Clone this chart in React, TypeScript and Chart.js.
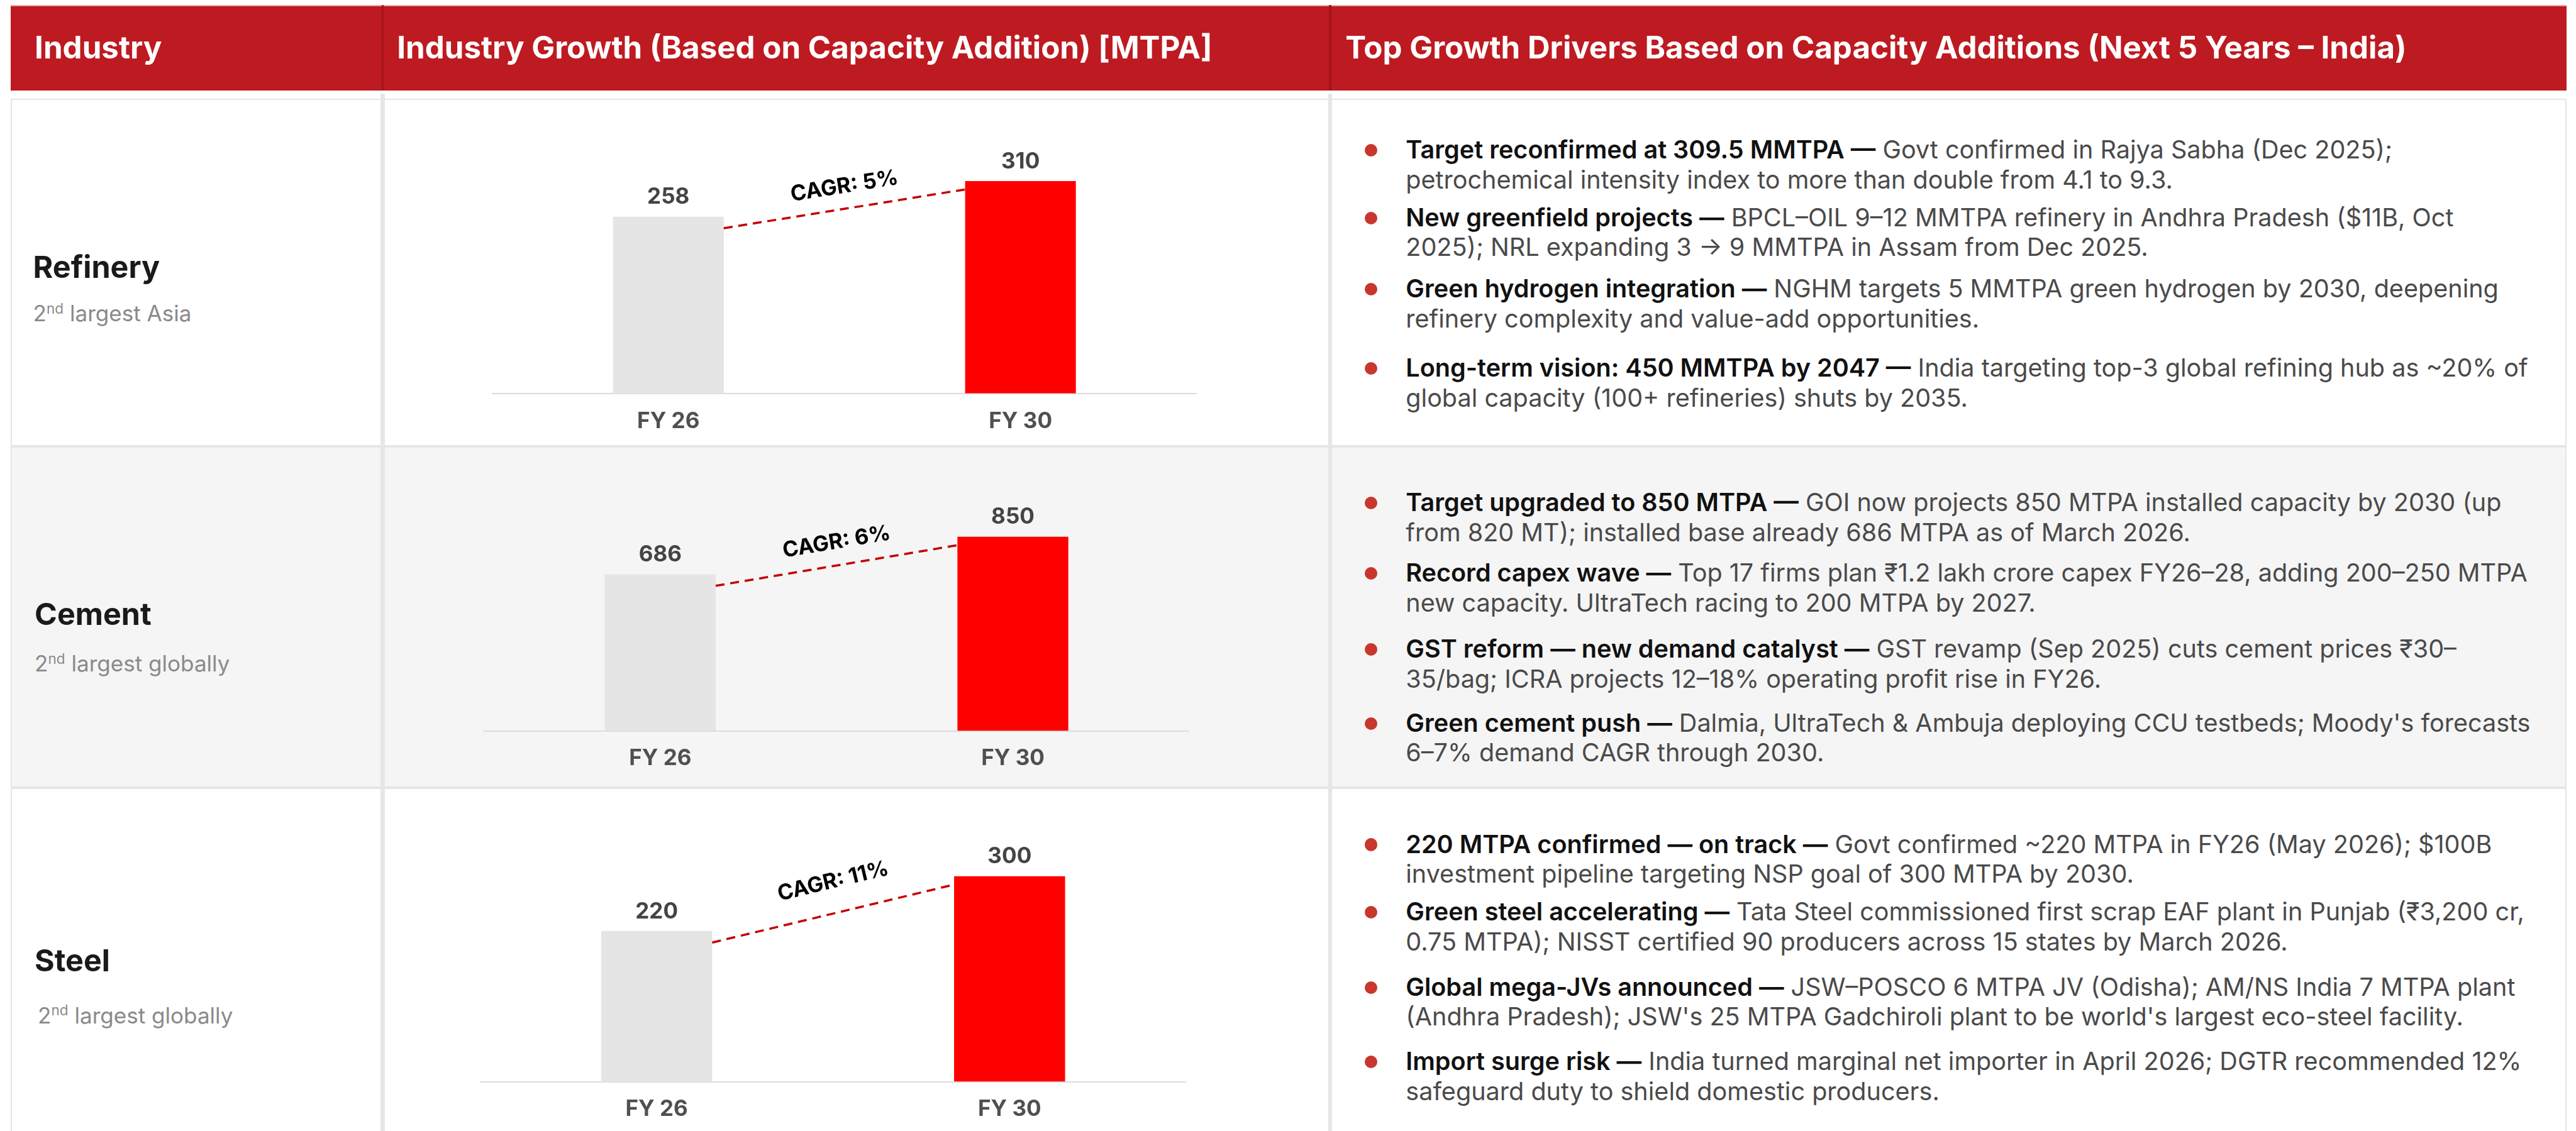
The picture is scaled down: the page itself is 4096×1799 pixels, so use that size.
import React, { useEffect, useRef } from "react";
import { Chart, registerables } from "chart.js";

Chart.register(...registerables);

// ---------- scale ----------
const S = 0.835;
const s = (v: number) => v * S;
const FONT = 'Inter, "Noto Sans", "DejaVu Sans", sans-serif';

// ---------- data ----------
const HEADERS = [
  "Industry",
  "Industry Growth (Based on Capacity Addition) [MTPA]",
  "Top Growth Drivers Based on Capacity Additions (Next 5 Years – India)",
];
const INDUSTRIES = ["Refinery", "Cement", "Steel"];
const RANK_NUMBER = "2";
const RANK_SUFFIX = "nd";
const RANK_TEXT = ["largest Asia", "largest globally", "largest globally"];
const YEARS = ["FY 26", "FY 30"];
const REFINERY_CAPACITY = [258, 310];
const CEMENT_CAPACITY = [686, 850];
const STEEL_CAPACITY = [220, 300];
const CAGR_LABELS = ["CAGR: 5%", "CAGR: 6%", "CAGR: 11%"];
const Y_AXIS_MAX = [400, 1200, 400];

const REFINERY_DRIVERS = [
  ["Target reconfirmed at 309.5 MMTPA —", " Govt confirmed in Rajya Sabha (Dec 2025);", "petrochemical intensity index to more than double from 4.1 to 9.3."],
  ["New greenfield projects —", " BPCL–OIL 9–12 MMTPA refinery in Andhra Pradesh ($11B, Oct", "2025); NRL expanding 3 → 9 MMTPA in Assam from Dec 2025."],
  ["Green hydrogen integration —", " NGHM targets 5 MMTPA green hydrogen by 2030, deepening", "refinery complexity and value-add opportunities."],
  ["Long-term vision: 450 MMTPA by 2047 —", " India targeting top-3 global refining hub as ~20% of", "global capacity (100+ refineries) shuts by 2035."],
];
const CEMENT_DRIVERS = [
  ["Target upgraded to 850 MTPA —", " GOI now projects 850 MTPA installed capacity by 2030 (up", "from 820 MT); installed base already 686 MTPA as of March 2026."],
  ["Record capex wave —", " Top 17 firms plan ₹1.2 lakh crore capex FY26–28, adding 200–250 MTPA", "new capacity. UltraTech racing to 200 MTPA by 2027."],
  ["GST reform — new demand catalyst —", " GST revamp (Sep 2025) cuts cement prices ₹30–", "35/bag; ICRA projects 12–18% operating profit rise in FY26."],
  ["Green cement push —", " Dalmia, UltraTech & Ambuja deploying CCU testbeds; Moody's forecasts", "6–7% demand CAGR through 2030."],
];
const STEEL_DRIVERS = [
  ["220 MTPA confirmed — on track —", " Govt confirmed ~220 MTPA in FY26 (May 2026); $100B", "investment pipeline targeting NSP goal of 300 MTPA by 2030."],
  ["Green steel accelerating —", " Tata Steel commissioned first scrap EAF plant in Punjab (₹3,200 cr,", "0.75 MTPA); NISST certified 90 producers across 15 states by March 2026."],
  ["Global mega-JVs announced —", " JSW–POSCO 6 MTPA JV (Odisha); AM/NS India 7 MTPA plant", "(Andhra Pradesh); JSW's 25 MTPA Gadchiroli plant to be world's largest eco-steel facility."],
  ["Import surge risk —", " India turned marginal net importer in April 2026; DGTR recommended 12%", "safeguard duty to shield domestic producers."],
];

const VALUES = [REFINERY_CAPACITY, CEMENT_CAPACITY, STEEL_CAPACITY];
const DRIVERS = [REFINERY_DRIVERS, CEMENT_DRIVERS, STEEL_DRIVERS];

// ---------- layout (reference pixel units) ----------
const ROW_TOP = [191, 850, 1501];
const ROW_BOTTOM = [850, 1501, 2153];
const TITLE_Y = [509, 1170, 1831];
const TITLE_X = [63, 66, 66];
const SUBTITLE_Y = [597, 1264, 1934];
const SUBTITLE_X = [63, 66, 72];
const PLOT_LEFT = [938, 922, 915];
const PLOT_RIGHT = [2279, 2265, 2259];
const BASELINE = [750, 1392, 2061];
const PLOT_H = 522;
const AXIS_H = 90;
const CANVAS_X0 = 737;
const CANVAS_X1 = 2525;
const DRIVER_Y = [
  [286, 415, 551, 702],
  [958, 1092, 1237, 1378],
  [1609, 1738, 1881, 2023],
];
const LINE_H = 57;
const ROW_BG = ["#ffffff", "#f5f5f5", "#ffffff"];

function GrowthChart({ idx }: { idx: number }) {
  const ref = useRef<HTMLCanvasElement>(null);
  const top = ROW_TOP[idx];
  const bottom = ROW_BOTTOM[idx];
  const W = Math.round(s(CANVAS_X1 - CANVAS_X0));
  const H = Math.round(s(bottom - top));

  useEffect(() => {
    if (!ref.current) return;
    const annot = {
      id: "annot",
      afterDatasetsDraw(chart: any) {
        const ctx = chart.ctx;
        const meta = chart.getDatasetMeta(0);
        const vals = chart.data.datasets[0].data;
        ctx.save();
        // value labels
        ctx.font = `700 ${s(42)}px ${FONT}`;
        ctx.fillStyle = "#444444";
        ctx.textAlign = "center";
        ctx.textBaseline = "middle";
        meta.data.forEach((bar: any, i: number) => {
          ctx.fillText(String(vals[i]), bar.x, bar.y - s(37));
        });
        // dashed connector
        const b0 = meta.data[0];
        const b1 = meta.data[1];
        const x0 = b0.x + b0.width / 2;
        const x1 = b1.x - b1.width / 2;
        const y0 = b0.y + s(22);
        const y1 = b1.y + s(16);
        ctx.setLineDash([s(17), s(11)]);
        ctx.lineWidth = s(4.2);
        ctx.strokeStyle = "#c40000";
        ctx.beginPath();
        ctx.moveTo(x0, y0);
        ctx.lineTo(x1, y1);
        ctx.stroke();
        ctx.setLineDash([]);
        // CAGR label
        const ang = Math.atan2(y1 - y0, x1 - x0);
        ctx.translate((x0 + x1) / 2, b1.y + s(10));
        ctx.rotate(ang);
        ctx.font = `700 ${s(41)}px ${FONT}`;
        ctx.fillStyle = "#000000";
        ctx.fillText(CAGR_LABELS[idx], 0, 0);
        ctx.restore();
      },
    };

    const fontSize = s(42);
    const padTick = s(53) - (fontSize * 1.2) / 2;
    const chart = new Chart(ref.current, {
      type: "bar",
      data: {
        labels: YEARS,
        datasets: [
          {
            data: VALUES[idx],
            backgroundColor: ["#e5e5e5", "#ff0000"],
            borderWidth: 0,
            barPercentage: 0.3145,
            categoryPercentage: 1,
          },
        ],
      },
      options: {
        animation: false,
        responsive: false,
        maintainAspectRatio: false,
        layout: {
          padding: {
            left: s(PLOT_LEFT[idx] - CANVAS_X0),
            right: W - s(PLOT_RIGHT[idx] - CANVAS_X0),
            top: s(BASELINE[idx] - PLOT_H - top),
            bottom: H - s(BASELINE[idx] - top) - s(AXIS_H),
          },
        },
        plugins: {
          legend: { display: false },
          tooltip: { enabled: false },
        },
        scales: {
          x: {
            grid: { display: false, drawTicks: false },
            border: { display: true, color: "#dcdcdc", width: 2 },
            ticks: {
              color: "#505050",
              padding: padTick,
              font: { family: FONT, size: fontSize, weight: "bold" },
            },
            afterFit: (sc: any) => {
              sc.height = s(AXIS_H);
            },
          },
          y: { display: false, min: 0, max: Y_AXIS_MAX[idx] },
        },
      } as any,
      plugins: [annot as any],
    });
    return () => chart.destroy();
  }, [idx]);

  return (
    <canvas
      ref={ref}
      width={W}
      height={H}
      style={{ position: "absolute", left: s(CANVAS_X0), top: s(top), width: W, height: H }}
    />
  );
}

function abs(x: number, y: number, w: number, h: number, extra: React.CSSProperties = {}): React.CSSProperties {
  return { position: "absolute", left: s(x), top: s(y), width: s(w), height: s(h), ...extra };
}

export default function App() {
  const headerX = [66, 756, 2562];
  const bodyFont = s(47.4);
  const lh = s(LINE_H);
  return (
    <div
      style={{
        position: "absolute",
        left: 0,
        top: 0,
        width: 4096,
        height: 1799,
        overflow: "hidden",
        background: "#ffffff",
        fontFamily: FONT,
      }}
    >
      {/* header */}
      <div style={abs(20, 9, 4868, 163, { background: "#be1a21", borderTop: "2px solid #e9a2a5", boxSizing: "border-box" })} />
      <div style={abs(727, 9, 4, 163, { background: "#a3141a" })} />
      <div style={abs(2531, 9, 4, 163, { background: "#a3141a" })} />
      {HEADERS.map((h, i) => (
        <div
          key={h}
          style={{
            position: "absolute",
            left: s(headerX[i]),
            top: s(90) - s(40),
            height: s(80),
            lineHeight: `${s(80)}px`,
            fontSize: s(59),
            fontWeight: 700,
            color: "#ffffff",
            whiteSpace: "nowrap",
          }}
        >
          {h}
        </div>
      ))}

      {/* rows */}
      {INDUSTRIES.map((name, i) => (
        <div
          key={"row" + name}
          style={abs(20, ROW_TOP[i] - (i === 0 ? 3 : 0), 4868, ROW_BOTTOM[i] - ROW_TOP[i] + (i === 0 ? 3 : 0) + (i === 2 ? 20 : 0), {
            background: ROW_BG[i],
            border: `${s(3)}px solid #e6e6e6`,
            boxSizing: "border-box",
          })}
        />
      ))}
      {/* vertical dividers */}
      <div style={abs(725, 178, 8, 2000, { background: "#e6e6e6" })} />
      <div style={abs(2529, 178, 8, 2000, { background: "#e6e6e6" })} />

      {/* industry names */}
      {INDUSTRIES.map((name, i) => (
        <React.Fragment key={"name" + name}>
          <div
            style={{
              position: "absolute",
              left: s(TITLE_X[i]),
              top: s(TITLE_Y[i]) - s(40),
              height: s(80),
              lineHeight: `${s(80)}px`,
              fontSize: s(58),
              fontWeight: 700,
              color: "#1a1a1a",
              whiteSpace: "nowrap",
            }}
          >
            {name}
          </div>
          <div
            style={{
              position: "absolute",
              left: s(SUBTITLE_X[i]),
              top: s(SUBTITLE_Y[i]) - s(30),
              height: s(60),
              lineHeight: `${s(60)}px`,
              fontSize: s(42),
              fontWeight: 400,
              color: "#8a8a8a",
              whiteSpace: "nowrap",
            }}
          >
            {RANK_NUMBER}
            <sup style={{ fontSize: s(27), verticalAlign: "baseline", position: "relative", top: -s(15) }}>{RANK_SUFFIX}</sup>{" "}
            {RANK_TEXT[i]}
          </div>
        </React.Fragment>
      ))}

      {/* charts */}
      {INDUSTRIES.map((name, i) => (
        <GrowthChart key={"chart" + name} idx={i} />
      ))}

      {/* drivers */}
      {DRIVERS.map((items, r) =>
        items.map((it, k) => {
          const cy = DRIVER_Y[r][k];
          return (
            <React.Fragment key={`d${r}-${k}`}>
              <div
                style={{
                  position: "absolute",
                  left: s(2611 - 12),
                  top: s(cy - 12),
                  width: s(24),
                  height: s(24),
                  borderRadius: "50%",
                  background: "#c8372d",
                }}
              />
              <div
                style={{
                  position: "absolute",
                  left: s(2677),
                  top: s(cy) - lh / 2,
                  fontSize: bodyFont,
                  lineHeight: `${lh}px`,
                  whiteSpace: "nowrap",
                  color: "#4a4a4a",
                }}
              >
                <div>
                  <span style={{ fontWeight: 600, color: "#111111" }}>{it[0]}</span>
                  <span>{it[1]}</span>
                </div>
                <div>{it[2]}</div>
              </div>
            </React.Fragment>
          );
        })
      )}
    </div>
  );
}
